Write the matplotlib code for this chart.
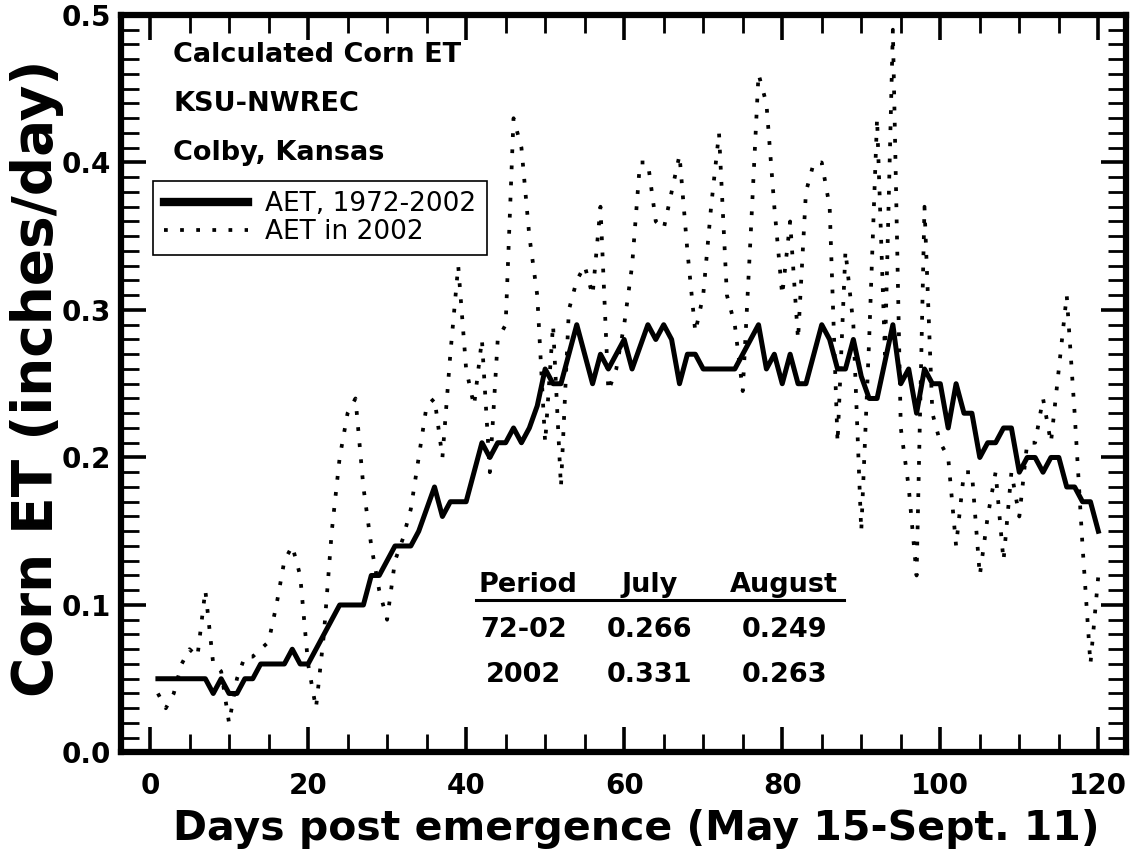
import matplotlib
matplotlib.use('Agg')
import matplotlib.pyplot as plt
import numpy as np
from matplotlib.ticker import MultipleLocator, FormatStrFormatter

# days post emergence
days = np.arange(1, 121)

# long term mean AET 1972-2002 (inches/day)
aet_mean = [
    0.05, 0.05, 0.05, 0.05, 0.05, 0.05, 0.05, 0.04, 0.05, 0.04,
    0.04, 0.05, 0.05, 0.06, 0.06, 0.06, 0.06, 0.07, 0.06, 0.06,
    0.07, 0.08, 0.09, 0.10, 0.10, 0.10, 0.10, 0.12, 0.12, 0.13,
    0.14, 0.14, 0.14, 0.15, 0.165, 0.18, 0.16, 0.17, 0.17, 0.17,
    0.19, 0.21, 0.20, 0.21, 0.21, 0.22, 0.21, 0.22, 0.235, 0.26,
    0.25, 0.25, 0.27, 0.29, 0.27, 0.25, 0.27, 0.26, 0.27, 0.28,
    0.26, 0.275, 0.29, 0.28, 0.29, 0.28, 0.25, 0.27, 0.27, 0.26,
    0.26, 0.26, 0.26, 0.26, 0.27, 0.28, 0.29, 0.26, 0.27, 0.25,
    0.27, 0.25, 0.25, 0.27, 0.29, 0.28, 0.26, 0.26, 0.28, 0.255,
    0.24, 0.24, 0.265, 0.29, 0.25, 0.26, 0.23, 0.26, 0.25, 0.25,
    0.22, 0.25, 0.23, 0.23, 0.20, 0.21, 0.21, 0.22, 0.22, 0.19,
    0.20, 0.20, 0.19, 0.20, 0.20, 0.18, 0.18, 0.17, 0.17, 0.15,
]

# AET in 2002 (inches/day)
aet_2002 = [
    0.04, 0.03, 0.04, 0.06, 0.07, 0.065, 0.11, 0.06, 0.055, 0.02,
    0.05, 0.065, 0.065, 0.07, 0.075, 0.10, 0.13, 0.14, 0.12, 0.06,
    0.03, 0.08, 0.15, 0.20, 0.23, 0.24, 0.18, 0.14, 0.11, 0.09,
    0.13, 0.145, 0.165, 0.20, 0.235, 0.24, 0.20, 0.27, 0.33, 0.26,
    0.235, 0.28, 0.19, 0.28, 0.29, 0.43, 0.41, 0.35, 0.31, 0.21,
    0.29, 0.18, 0.30, 0.32, 0.33, 0.31, 0.37, 0.245, 0.26, 0.29,
    0.33, 0.40, 0.40, 0.36, 0.355, 0.38, 0.405, 0.34, 0.285, 0.31,
    0.37, 0.42, 0.31, 0.29, 0.245, 0.35, 0.46, 0.44, 0.37, 0.31,
    0.36, 0.28, 0.38, 0.40, 0.40, 0.37, 0.21, 0.34, 0.29, 0.15,
    0.28, 0.43, 0.27, 0.49, 0.22, 0.18, 0.12, 0.37, 0.23, 0.21,
    0.20, 0.14, 0.19, 0.19, 0.12, 0.16, 0.19, 0.13, 0.19, 0.16,
    0.21, 0.21, 0.24, 0.21, 0.26, 0.31, 0.23, 0.14, 0.06, 0.12,
]

title_lines = ["Calculated Corn ET", "KSU-NWREC", "Colby, Kansas"]

# monthly means table
table_header = ["Period", "July", "August"]
periods = ["72-02", "2002"]
july = [0.266, 0.331]
august = [0.249, 0.263]

plt.rcParams['font.family'] = ['DejaVu Sans']
plt.rcParams['font.weight'] = 'bold'
plt.rcParams['axes.labelweight'] = 'bold'

fig = plt.figure(figsize=(11.32, 8.55), dpi=100)
ax = fig.add_axes([0.1069, 0.1199, 0.8878, 0.8626])

ax.plot(days, aet_mean, color='black', linewidth=3.6, label='AET, 1972-2002')
ax.plot(days, aet_2002, color='black', linewidth=2.7, linestyle=(0, (1.0, 3.3)),
        dash_capstyle='butt', label='AET in 2002')

ax.set_xlim(-3.67, 123.5)
ax.set_ylim(0, 0.5)
ax.xaxis.set_major_locator(MultipleLocator(20))
ax.xaxis.set_minor_locator(MultipleLocator(5))
ax.yaxis.set_major_locator(MultipleLocator(0.1))
ax.yaxis.set_minor_locator(MultipleLocator(0.01))
ax.yaxis.set_major_formatter(FormatStrFormatter('%.1f'))

for side in ax.spines.values():
    side.set_linewidth(4.5)

ax.tick_params(which='both', direction='in', top=True, right=True, color='black')
ax.tick_params(which='major', length=18, width=2.6, labelsize=20)
ax.tick_params(which='minor', length=13, width=2.0)
ax.tick_params(axis='x', which='major', pad=14)
ax.tick_params(axis='y', which='major', pad=7)

ax.set_ylabel('Corn ET (inches/day)', fontsize=39.5)
ax.yaxis.set_label_coords(-0.057, 0.508)
ax.set_xlabel('Days post emergence (May 15-Sept. 11)', fontsize=29.5)
ax.xaxis.set_label_coords(0.513, -0.077)

# site text
for i, line in enumerate(title_lines):
    ax.text(0.052, 0.936 - i * 0.0665, line, transform=ax.transAxes,
            fontsize=19.5, ha='left', va='baseline')

leg = ax.legend(loc='upper left', bbox_to_anchor=(0.032, 0.775), borderaxespad=0,
                frameon=True, fancybox=False, edgecolor='black', framealpha=1,
                handlelength=3.2, handletextpad=0.65, borderpad=0.4, labelspacing=0.05,
                prop={'size': 19, 'weight': 'normal'})
leg.get_frame().set_linewidth(1.2)
leg.get_lines()[0].set_linewidth(6)

# table of July / August means
col_x = [0.400, 0.526, 0.660]
head_y = 0.217
row_y = [0.156, 0.095]
ax.text(0.405, head_y, table_header[0], transform=ax.transAxes, fontsize=19.5, ha='center', va='baseline')
ax.text(col_x[1], head_y, table_header[1], transform=ax.transAxes, fontsize=19.5, ha='center', va='baseline')
ax.text(col_x[2], head_y, table_header[2], transform=ax.transAxes, fontsize=19.5, ha='center', va='baseline')
ax.plot([0.353, 0.719], [0.207, 0.207], transform=ax.transAxes, color='black', linewidth=2.2)
for p, j, a, y in zip(periods, july, august, row_y):
    ax.text(col_x[0], y, p, transform=ax.transAxes, fontsize=19.5, ha='center', va='baseline')
    ax.text(col_x[1], y, f"{j:.3f}", transform=ax.transAxes, fontsize=19.5, ha='center', va='baseline')
    ax.text(col_x[2], y, f"{a:.3f}", transform=ax.transAxes, fontsize=19.5, ha='center', va='baseline')

plt.savefig('out.png', dpi=100)
